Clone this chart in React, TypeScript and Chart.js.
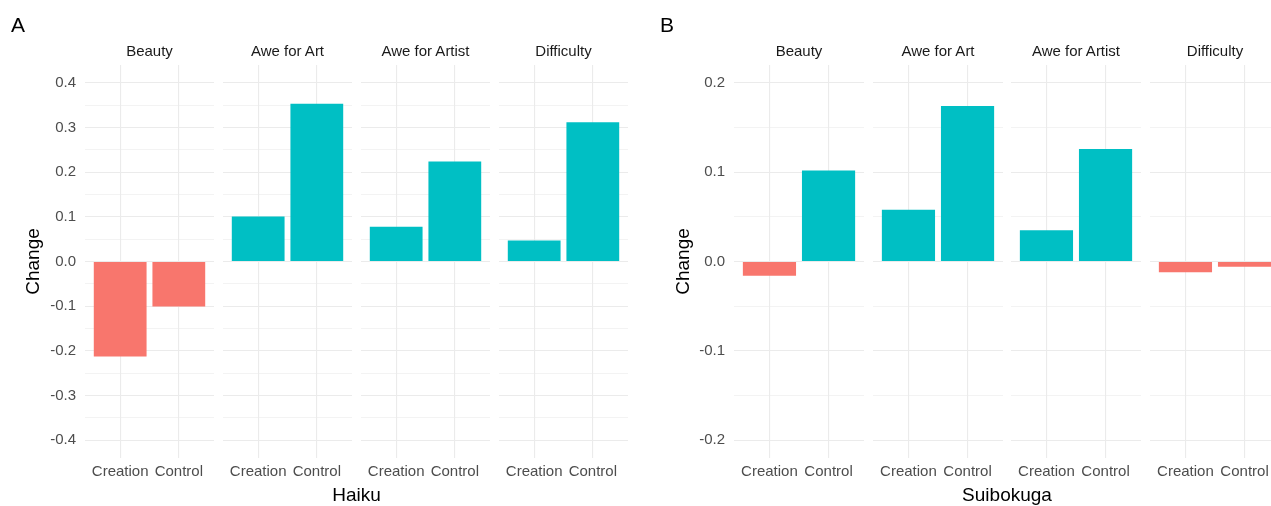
import React, { useEffect, useRef } from 'react';
import { Chart, registerables } from 'chart.js';

Chart.register(...registerables);

// ---------- data ----------
const FACETS = ['Beauty', 'Awe for Art', 'Awe for Artist', 'Difficulty'];
const CONDITIONS = ['Creation', 'Control'];

const haikuCreation = [-0.213, 0.101, 0.078, 0.047];
const haikuControl = [-0.101, 0.353, 0.224, 0.312];
const suibokugaCreation = [-0.016, 0.058, 0.035, -0.012];
const suibokugaControl = [0.102, 0.174, 0.126, -0.006];

const haikuMajorTicks = [-0.4, -0.3, -0.2, -0.1, 0, 0.1, 0.2, 0.3, 0.4];
const haikuMinorTicks = [-0.35, -0.25, -0.15, -0.05, 0.05, 0.15, 0.25, 0.35];
const suibokugaMajorTicks = [-0.2, -0.1, 0, 0.1, 0.2];
const suibokugaMinorTicks = [-0.15, -0.05, 0.05, 0.15];

const haikuLimit = 0.44;
const suibokugaLimit = 0.22;

// discrete x expansion (ggplot adds 0.6 units on each side)
const X_EXPAND = 0.6;

// ---------- style / layout ----------
const NEG = '#F8766D';
const POS = '#00BFC4';
const GRID = '#EBEBEB';
const FONT = '"Liberation Sans", Arial, Helvetica, sans-serif';

const PLOT_TOP = 65;
const PLOT_BOTTOM = 458;
const PAD_TOP = 24;
const X_AXIS_H = 27;

const panelALefts = [85, 223, 361, 499];
const panelAWidth = 129;
const panelAAxisW = 71;
const panelBLefts = [734, 873, 1011, 1150];
const panelBWidth = 130;
const panelBAxisW = 70;

type FacetProps = {
  left: number;
  width: number;
  axisWidth: number;
  values: number[];
  limit: number;
  major: number[];
  minor: number[];
};

function FacetChart({ left, width, axisWidth, values, limit, major, minor }: FacetProps) {
  const ref = useRef<HTMLCanvasElement>(null);
  const height = PAD_TOP + (PLOT_BOTTOM - PLOT_TOP) + X_AXIS_H;

  useEffect(() => {
    const allTicks = [...major, ...minor].sort((a, b) => a - b);
    const isMajor = (v: number) => major.some((m) => Math.abs(m - v) < 1e-9);
    const showAxis = axisWidth > 0;
    const chart = new Chart(ref.current as HTMLCanvasElement, {
      type: 'bar',
      data: {
        datasets: [
          {
            data: values.map((v, i) => ({ x: i, y: v })),
            backgroundColor: values.map((v) => (v < 0 ? NEG : POS)),
            borderWidth: 0,
            categoryPercentage: 0.9,
            barPercentage: 1,
          },
        ],
      },
      options: {
        animation: false,
        responsive: false,
        devicePixelRatio: 1,
        layout: { padding: { top: PAD_TOP, left: 0, right: 0, bottom: 0 } },
        plugins: { legend: { display: false }, tooltip: { enabled: false } },
        scales: {
          x: {
            type: 'linear',
            min: -X_EXPAND,
            max: CONDITIONS.length - 1 + X_EXPAND,
            offset: false,
            afterBuildTicks: (s: any) => {
              s.ticks = CONDITIONS.map((_, i) => ({ value: i }));
            },
            grid: { offset: false, color: GRID, lineWidth: 1.1, drawTicks: false },
            border: { display: false },
            ticks: {
              callback: (v: any) => CONDITIONS[Math.round(Number(v))] ?? '',
              font: { family: FONT, size: 15 },
              color: '#4D4D4D',
              padding: 5,
              maxRotation: 0,
              autoSkip: false,
            },
            afterFit: (s: any) => {
              s.height = X_AXIS_H;
            },
          },
          y: {
            type: 'linear',
            min: -limit,
            max: limit,
            afterBuildTicks: (s: any) => {
              s.ticks = allTicks.map((v) => ({ value: v }));
            },
            grid: {
              color: GRID,
              lineWidth: (ctx: any) => (ctx.tick && !isMajor(ctx.tick.value) ? 0.6 : 1.1),
              drawTicks: false,
            },
            border: { display: false },
            ticks: {
              display: showAxis,
              callback: (v: any) => (isMajor(Number(v)) ? Number(v).toFixed(1) : ''),
              font: { family: FONT, size: 15 },
              color: '#4D4D4D',
              padding: 9,
            },
            title: {
              display: showAxis,
              text: 'Change',
              font: { family: FONT, size: 19 },
              color: '#000000',
              padding: { top: 8, bottom: 0 },
            },
            afterFit: (s: any) => {
              s.width = axisWidth;
            },
          },
        },
      },
    } as any);
    return () => chart.destroy();
  }, []);

  return (
    <canvas
      ref={ref}
      width={width + axisWidth}
      height={height}
      style={{ position: 'absolute', left: left - axisWidth, top: PLOT_TOP - PAD_TOP }}
    />
  );
}

function Label({ x, y, text, size, color }: { x: number; y: number; text: string; size: number; color: string }) {
  return (
    <div
      style={{
        position: 'absolute',
        left: x,
        top: y,
        transform: 'translate(-50%, -50%)',
        whiteSpace: 'nowrap',
        fontFamily: FONT,
        fontSize: size,
        lineHeight: 1,
        color,
      }}
    >
      {text}
    </div>
  );
}

function Panel({
  letter,
  letterX,
  lefts,
  width,
  axisW,
  creation,
  control,
  limit,
  major,
  minor,
  xTitle,
}: {
  letter: string;
  letterX: number;
  lefts: number[];
  width: number;
  axisW: number;
  creation: number[];
  control: number[];
  limit: number;
  major: number[];
  minor: number[];
  xTitle: string;
}) {
  const center = (lefts[0] + lefts[lefts.length - 1] + width) / 2;
  return (
    <>
      {FACETS.map((f, i) => (
        <React.Fragment key={f}>
          <FacetChart
            left={lefts[i]}
            width={width}
            axisWidth={i === 0 ? axisW : 0}
            values={[creation[i], control[i]]}
            limit={limit}
            major={major}
            minor={minor}
          />
          <Label x={lefts[i] + width / 2} y={50} text={f} size={15} color="#1A1A1A" />
        </React.Fragment>
      ))}
      <Label x={letterX} y={24} text={letter} size={21} color="#000000" />
      <Label x={center} y={494} text={xTitle} size={19} color="#000000" />
    </>
  );
}

export default function App() {
  return (
    <div
      style={{
        position: 'absolute',
        left: 0,
        top: 0,
        width: 1271,
        height: 506,
        overflow: 'hidden',
        background: '#FFFFFF',
      }}
    >
      <Panel
        letter="A"
        letterX={18}
        lefts={panelALefts}
        width={panelAWidth}
        axisW={panelAAxisW}
        creation={haikuCreation}
        control={haikuControl}
        limit={haikuLimit}
        major={haikuMajorTicks}
        minor={haikuMinorTicks}
        xTitle="Haiku"
      />
      <Panel
        letter="B"
        letterX={667}
        lefts={panelBLefts}
        width={panelBWidth}
        axisW={panelBAxisW}
        creation={suibokugaCreation}
        control={suibokugaControl}
        limit={suibokugaLimit}
        major={suibokugaMajorTicks}
        minor={suibokugaMinorTicks}
        xTitle="Suibokuga"
      />
    </div>
  );
}
